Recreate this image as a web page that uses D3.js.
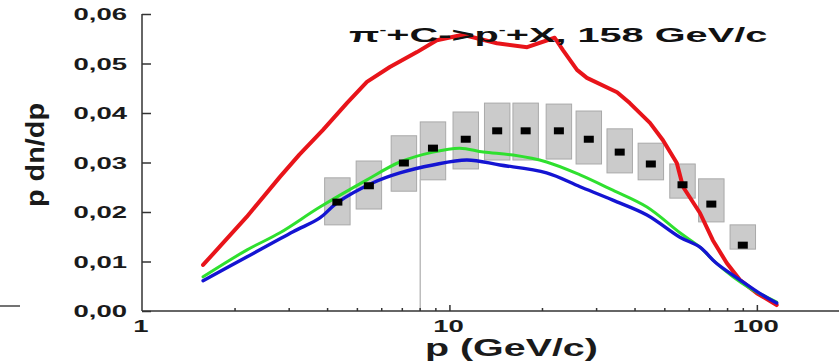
<!DOCTYPE html>
<html>
<head>
<meta charset="utf-8">
<script src="https://cdn.jsdelivr.net/npm/d3@7/dist/d3.min.js"></script>
<style>
  html, body { margin: 0; padding: 0; background: #fff; }
  svg { display: block; }
  text { font-family: "Liberation Sans", Arial, sans-serif; font-weight: bold; }
</style>
</head>
<body>
<svg id="chart" width="839" height="362"></svg>
<script>
// Measured p dn/dp for pi- + C -> p- + X at 158 GeV/c (bin centres in GeV/c)
const pBins   = [4.32, 5.47, 7.11, 8.84, 11.3, 14.3, 17.7, 22.7, 28.4, 35.8, 45.2, 57.3, 71.1, 90.0];
const dataVal = [0.0220, 0.0253, 0.0299, 0.0329, 0.0347, 0.0364, 0.0364, 0.0364, 0.0347, 0.0321, 0.0297, 0.0255, 0.0216, 0.0133];
const sysLow  = [0.0174, 0.0206, 0.0242, 0.0265, 0.0287, 0.0305, 0.0305, 0.0307, 0.0297, 0.0279, 0.0265, 0.0228, 0.0180, 0.0125];
const sysHigh = [0.0269, 0.0303, 0.0354, 0.0382, 0.0402, 0.0420, 0.0420, 0.0418, 0.0404, 0.0368, 0.0339, 0.0297, 0.0267, 0.0174];

// Model curves: momentum grid and values
const redP   = [1.58, 2.19, 2.81, 3.25, 3.88, 4.64, 5.39, 6.40, 7.84, 9.10, 11.06, 14.27, 17.9, 22.0, 23.4, 26.0, 28.0, 35.1, 38.6, 44.9, 49.5, 54.9, 57.5, 65.3, 71.9, 79.8, 88.0, 100, 116];
const redV   = [0.0093, 0.0190, 0.0271, 0.0316, 0.0366, 0.0420, 0.0463, 0.0493, 0.0523, 0.0547, 0.0558, 0.0541, 0.0533, 0.0552, 0.0527, 0.0487, 0.0471, 0.0442, 0.0420, 0.0380, 0.0345, 0.0299, 0.0251, 0.0198, 0.0143, 0.0097, 0.0063, 0.0036, 0.0012];
const greenP = [1.58, 2.19, 2.81, 3.79, 5.39, 6.90, 8.84, 10.8, 12.9, 16.1, 20.7, 26.6, 34.0, 43.9, 56.2, 65.3, 71.9, 83.6, 94.9, 116];
const greenV = [0.0069, 0.0123, 0.0158, 0.0210, 0.0265, 0.0301, 0.0321, 0.0329, 0.0321, 0.0315, 0.0301, 0.0275, 0.0244, 0.0210, 0.0158, 0.0129, 0.0103, 0.0069, 0.0046, 0.0018];
const blueP  = [1.58, 2.19, 3.10, 3.79, 4.30, 5.64, 6.90, 8.84, 11.4, 14.6, 20.7, 26.6, 34.0, 43.9, 56.2, 65.3, 73.7, 88.0, 101.9, 116];
const blueV  = [0.0061, 0.0109, 0.0160, 0.0188, 0.0218, 0.0259, 0.0279, 0.0295, 0.0305, 0.0295, 0.0279, 0.0251, 0.0224, 0.0194, 0.0149, 0.0129, 0.0097, 0.0063, 0.0036, 0.0016];

const yTicks = [0, 0.01, 0.02, 0.03, 0.04, 0.05, 0.06];
const yTickLabels = ["0,00", "0,01", "0,02", "0,03", "0,04", "0,05", "0,06"];
const xTicks = [1, 10, 100];
const xTickLabels = ["1", "10", "100"];

const svg = d3.select("#chart");
const W = 839;

const x = d3.scaleLog().domain([1, 185]).range([142, W]);
const y = d3.scaleLinear().domain([0, 0.06]).range([311, 14]);

const axisColor = "#333";
const textColor = "#1a1a1a";
const stretch = 1.72;   // horizontal stretch applied to all labels

// systematic boxes
const binHalf = 1.1; // multiplicative half-width of each bin on the log axis
svg.append("g").selectAll("rect").data(pBins).join("rect")
  .attr("x", d => x(d / binHalf))
  .attr("width", d => x(d * binHalf) - x(d / binHalf))
  .attr("y", (d, i) => y(sysHigh[i]))
  .attr("height", (d, i) => y(sysLow[i]) - y(sysHigh[i]))
  .attr("fill", "#cbcbcb")
  .attr("stroke", "#a9a9a9")
  .attr("stroke-width", 1);

// thin guide line below the fourth bin
svg.append("line")
  .attr("x1", x(pBins[3] / binHalf)).attr("x2", x(pBins[3] / binHalf))
  .attr("y1", y(sysLow[3])).attr("y2", y(0))
  .attr("stroke", "#bdbdbd").attr("stroke-width", 1.5);

// model curves
function curve(ps, vs, color, w, shape) {
  const line = d3.line().x(d => x(d[0])).y(d => y(d[1])).curve(shape);
  svg.append("path")
    .datum(ps.map((p, i) => [p, vs[i]]))
    .attr("d", line)
    .attr("fill", "none")
    .attr("stroke", color)
    .attr("stroke-width", w)
    .attr("stroke-linejoin", "round")
    .attr("stroke-linecap", "round");
}
curve(redP, redV, "#e8141a", 4, d3.curveLinear);
curve(greenP, greenV, "#2fe02f", 3, d3.curveCatmullRom);
curve(blueP, blueV, "#1414d2", 3.4, d3.curveCatmullRom);

// data points
svg.append("g").selectAll("rect").data(pBins).join("rect")
  .attr("x", d => x(d) - 5)
  .attr("y", (d, i) => y(dataVal[i]) - 3.5)
  .attr("width", 10).attr("height", 7)
  .attr("fill", "#000");

// axes
const yAxis = svg.append("g").attr("transform", `translate(${x(1)},0)`)
  .call(d3.axisRight(y).tickValues(yTicks).tickSize(9).tickFormat(""));
yAxis.select(".domain").attr("d", `M0,${y(0.06)}V${y(0)}`);
yAxis.selectAll("path, line").attr("stroke", axisColor).attr("stroke-width", 1.5);

const minor = [];
[1, 10, 100].forEach(dec => { for (let k = 2; k <= 9; k++) if (dec * k < 185) minor.push(dec * k); });
const xAxis = svg.append("g").attr("transform", `translate(0,${y(0)})`);
xAxis.call(d3.axisTop(x).tickValues(xTicks.slice(1)).tickSize(6).tickFormat(""));
xAxis.select(".domain").attr("d", `M${x(1)},0H${W}`);
xAxis.append("g").call(d3.axisTop(x).tickValues(minor).tickSize(3).tickFormat(""))
  .select(".domain").remove();
xAxis.selectAll("path, line").attr("stroke", axisColor).attr("stroke-width", 1.5);

// small stub on the left edge
svg.append("line").attr("x1", 0).attr("x2", 20).attr("y1", 306).attr("y2", 306)
  .attr("stroke", "#444").attr("stroke-width", 1.5);

// tick labels
svg.append("g").selectAll("text").data(yTicks).join("text")
  .attr("transform", d => `translate(127,${y(d) + 6}) scale(${stretch},1)`)
  .attr("text-anchor", "end")
  .attr("font-size", 16)
  .attr("fill", textColor)
  .text((d, i) => yTickLabels[i]);

svg.append("g").selectAll("text").data(xTicks).join("text")
  .attr("transform", d => `translate(${x(d) - 1},332) scale(${stretch},1)`)
  .attr("text-anchor", "middle")
  .attr("font-size", 16)
  .attr("fill", textColor)
  .text((d, i) => xTickLabels[i]);

// fit a text element horizontally between left and right edges
function fitX(t, left, right) {
  const b = t.node().getBBox();
  const sx = (right - left) / b.width;
  t.attr("transform", `translate(${left - b.x * sx},0) scale(${sx},1)`);
}

// x axis title
const xt = svg.append("text").attr("x", 0).attr("y", 356)
  .attr("font-size", 24).attr("fill", textColor).text("p (GeV/c)");
fitX(xt, 425, 598);

// plot title with superscript charges
const title = svg.append("text").attr("x", 0).attr("y", 42)
  .attr("font-size", 21).attr("fill", "#111");
title.append("tspan").text("π");
title.append("tspan").attr("font-size", 11).attr("dy", -9).text("-");
title.append("tspan").attr("dy", 9).text("+C->p");
title.append("tspan").attr("font-size", 11).attr("dy", -9).text("-");
title.append("tspan").attr("dy", 9).text("+X, 158 GeV/c");
fitX(title, 349, 768);

// y axis title, rotated and fitted to its box
const yg = svg.append("g");
const yt = yg.append("text").attr("text-anchor", "middle")
  .attr("font-size", 22).attr("fill", textColor).text("p dn/dp");
const yb = yt.node().getBBox();
yt.attr("y", -(yb.y + yb.height / 2));
const sLen = 104 / yb.width, sThick = 30 / yb.height;
yg.attr("transform", `translate(35,155) rotate(-90) scale(${sLen},${sThick})`);
</script>
</body>
</html>
